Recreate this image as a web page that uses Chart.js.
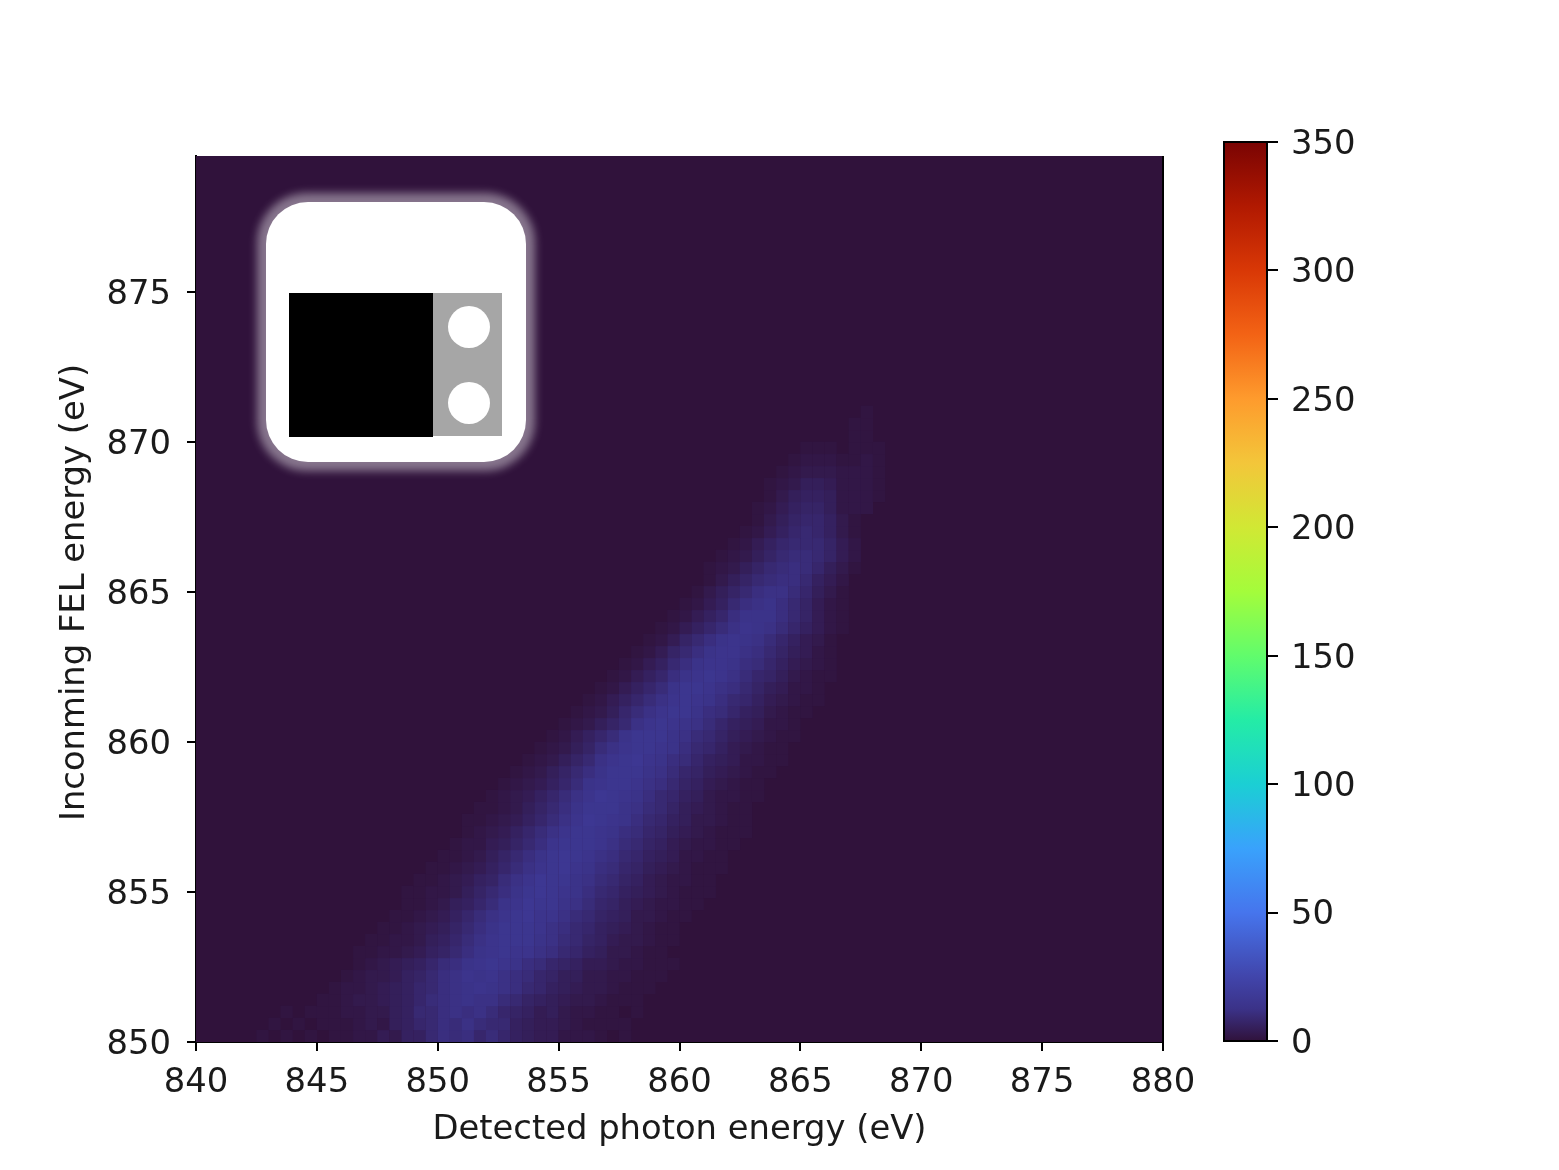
<!DOCTYPE html>
<html>
<head>
<meta charset="utf-8">
<title>RIXS map</title>
<script src="https://cdn.jsdelivr.net/npm/chart.js@4"></script>
<style>
  html, body { margin: 0; background: #fff; }
  #wrap { position: relative; width: 1559px; height: 1170px; }
  canvas { position: absolute; top: 0; }
  #mapChart { left: 0; }
  #barChart { left: 1180px; }
</style>
</head>
<body>
<div id="wrap">
  <canvas id="mapChart" width="1559" height="1170"></canvas>
  <canvas id="barChart" width="379" height="1170"></canvas>
</div>
<script>
const xTicks = [840, 845, 850, 855, 860, 865, 870, 875, 880];
const yTicks = [850, 855, 860, 865, 870, 875];
const barTicks = [0, 50, 100, 150, 200, 250, 300, 350];

const xLabel = "Detected photon energy (eV)";
const yLabel = "Inconming FEL energy (eV)";

// map grid: column width in eV, row height in eV
const colStep = 0.5;
const rowStep = 0.4;

// first column index of each row in rowValues
const rowStarts = [5, 6, 7, 10, 11, 12, 13, 13, 14, 15, 16, 17, 17, 18, 19, 20, 21, 22, 22, 23, 24, 25, 26, 27,
  28, 29, 30, 31, 32, 33, 34, 35, 36, 37, 38, 39, 40, 41, 42, 42, 43, 44, 45, 46, 46, 47, 47, 48, 49, 50, 54, 54, 54];

// bottom row first, background (0) left out
const rowValues = [
  [1,0,1,0,1,0,1,1,2,2,4,3,6,6,9,11,10,11,8,10,8,6,5,4,4,2,2,2,1,0,1],
  [1,0,1,0,1,1,1,2,3,2,5,6,8,9,11,10,12,10,9,9,6,5,4,4,3,2,1,1,1,1],
  [1,0,1,1,1,2,2,3,3,5,6,9,9,11,12,11,12,10,8,7,6,4,5,3,2,2,1,1,0,1],
  [1,1,2,3,3,4,5,6,8,10,11,12,13,12,12,10,9,7,6,5,4,3,3,2,1,1,1],
  [1,2,2,3,4,5,6,8,9,11,12,13,14,13,12,11,9,8,6,5,4,3,3,2,1,1,1],
  [1,2,3,3,4,6,7,9,11,12,14,13,14,12,11,10,8,7,5,5,3,3,2,2,1,1,1],
  [1,2,3,4,5,6,8,10,11,13,14,15,14,13,11,10,8,7,6,4,4,3,2,2,1,1,1],
  [1,1,2,2,3,4,6,7,9,11,13,14,15,14,14,12,11,9,8,6,5,3,3,2,1,1],
  [1,1,2,2,3,5,6,8,10,12,14,15,15,15,13,12,10,9,7,6,4,3,3,2,1,1],
  [1,1,2,3,4,5,7,9,11,13,15,15,15,14,12,11,9,8,6,5,4,3,2,1,1],
  [1,1,2,3,4,6,8,10,12,14,15,16,14,14,12,10,9,7,6,5,3,3,2,1,1],
  [1,1,2,3,5,6,8,10,13,14,16,15,15,13,12,10,8,7,5,4,3,2,2,1,1],
  [1,1,2,2,3,5,7,9,11,13,15,16,15,14,13,11,9,8,6,5,4,3,2,1,1,1],
  [1,1,2,3,4,6,7,10,12,14,16,15,15,13,12,10,9,7,6,4,3,2,2,1,1],
  [1,1,2,3,4,6,8,10,12,14,15,16,14,13,11,10,8,7,5,4,3,2,1,1,1],
  [1,1,2,3,5,7,9,11,13,15,16,15,14,12,11,9,8,6,5,4,2,2,1,1],
  [1,2,2,4,5,7,9,11,14,15,15,15,14,12,10,9,7,6,4,3,2,2,1,1],
  [1,2,3,4,6,8,10,12,14,15,15,14,13,11,10,8,7,5,4,3,2,1,1,1],
  [1,1,2,3,4,6,8,10,12,14,16,15,14,13,11,9,8,6,5,3,3,2,1,1],
  [1,1,2,3,5,7,9,11,13,15,15,15,13,12,10,9,7,5,4,3,2,1,1],
  [1,2,3,4,6,8,10,12,14,16,15,14,13,11,9,8,6,5,3,2,2,1,1],
  [1,2,3,4,6,8,10,13,14,15,15,14,12,11,9,7,6,4,3,2,1,1],
  [1,2,3,5,7,9,11,13,15,15,15,13,12,10,8,7,5,4,3,2,1,1],
  [1,2,3,5,7,9,12,14,15,16,14,13,11,10,8,6,5,4,2,2,1,1],
  [1,2,3,5,7,10,12,14,15,15,14,13,11,9,8,6,4,3,2,1,1],
  [1,2,4,6,8,10,13,15,15,15,13,12,10,9,7,5,4,3,2,1,1],
  [1,2,3,5,7,9,12,14,15,14,13,12,10,8,6,5,4,2,2,1],
  [1,2,3,5,8,10,12,14,15,15,13,11,10,8,6,5,3,2,1,1],
  [1,2,4,6,8,10,12,14,15,14,13,11,9,8,6,4,3,2,1,1],
  [1,2,4,6,8,10,13,15,15,14,12,11,9,7,5,4,2,2,1],
  [1,2,4,6,8,11,13,14,15,14,12,10,8,7,5,3,2,1,1],
  [1,2,4,6,9,11,13,14,14,13,11,10,8,6,4,3,2,1],
  [1,2,4,7,9,11,13,14,14,12,11,9,7,5,4,2,1],
  [1,2,4,7,9,11,13,14,13,12,10,8,6,4,3,1],
  [1,2,4,6,8,10,12,14,13,12,10,8,6,4,2,1],
  [1,2,4,6,8,11,13,13,13,11,9,7,4,2,1],
  [1,2,4,6,9,11,12,13,11,9,7,4,2,1],
  [1,3,5,7,9,11,12,12,10,8,5,3,1],
  [1,3,5,7,9,10,11,11,9,6,4,2],
  [1,2,3,5,7,9,10,11,10,8,5,3,1],
  [1,2,3,5,7,9,10,10,9,7,4,2],
  [1,2,4,6,8,9,9,9,7,4,2],
  [1,2,4,6,8,9,8,6,3,1],
  [1,3,5,7,8,8,6,3,1],
  [1,2,4,6,7,7,5,2,2,2],
  [1,3,5,6,6,5,2,2,2,1],
  [1,2,3,5,5,4,2,2,2,1],
  [1,2,3,3,3,2,2,2,1],
  [1,2,2,2,1,1,2,1],
  [1,1,1,0,1,1,1],
  [1,1],
  [1,1],
  [0,1]
];

// turbo colormap stops, positions in 0..1
const turboPos = [0, 0.0357, 0.0714, 0.1429, 0.2143, 0.2857, 0.3571, 0.4286, 0.5, 0.5714, 0.6429, 0.7143, 0.7857, 0.8571, 0.9286, 1];
const turboStops = ["#30123b", "#3b3288", "#4145ab", "#4675ed", "#39a2fc", "#1bcfd4", "#24eca6", "#61fc6c", "#a4fc3b",
  "#d1e834", "#f3c63a", "#fe9b2d", "#f36315", "#d93806", "#b11901", "#7a0403"];
const vmax = 350;

function hexToRgb(h) {
  return [1, 3, 5].map(i => parseInt(h.slice(i, i + 2), 16));
}
function turbo(v) {
  const t = Math.min(v / vmax, 1);
  let i = 0;
  while (i < turboPos.length - 2 && t > turboPos[i + 1]) i++;
  const f = (t - turboPos[i]) / (turboPos[i + 1] - turboPos[i]);
  const a = hexToRgb(turboStops[i]), b = hexToRgb(turboStops[i + 1]);
  const c = a.map((p, k) => Math.round(p + (b[k] - p) * f));
  return `rgb(${c[0]},${c[1]},${c[2]})`;
}

const cells = [];
rowValues.forEach((row, j) => {
  row.forEach((v, k) => {
    if (v > 0) cells.push({ x: 840 + (rowStarts[j] + k + 0.5) * colStep, y: 850 + (j + 0.5) * rowStep, v });
  });
});

Chart.defaults.font.family = "'DejaVu Sans'";
Chart.defaults.font.size = 33.8;
Chart.defaults.color = "#1a1a1a";
Chart.defaults.animation = false;

function fixedTicks(list) {
  return scale => { scale.ticks = list.map(value => ({ value })); };
}

const mapBackdrop = {
  id: "mapBackdrop",
  beforeDatasetsDraw(chart) {
    const a = chart.chartArea, ctx = chart.ctx;
    ctx.fillStyle = turboStops[0];
    ctx.fillRect(a.left, a.top, a.right - a.left, a.bottom - a.top);
  },
  afterDraw(chart) {
    const a = chart.chartArea, ctx = chart.ctx;
    // right spine, image covers the top one
    ctx.strokeStyle = "#000";
    ctx.lineWidth = 2;
    ctx.beginPath();
    ctx.moveTo(a.right, a.top);
    ctx.lineTo(a.right, a.bottom);
    ctx.stroke();

    // axis title sits a bit above the axes centre in the reference
    ctx.save();
    ctx.translate(75, 592.5);
    ctx.rotate(-Math.PI / 2);
    ctx.font = "33.8px 'DejaVu Sans'";
    ctx.fillStyle = "#1a1a1a";
    ctx.textAlign = "center";
    ctx.textBaseline = "middle";
    ctx.fillText(yLabel, 0, 0);
    ctx.restore();

    // inset sketch in the corner
    ctx.save();
    ctx.filter = "blur(4px)";
    ctx.fillStyle = "rgba(255,255,255,0.42)";
    ctx.beginPath();
    ctx.roundRect(257, 193, 278, 278, 50);
    ctx.fill();
    ctx.restore();
    ctx.fillStyle = "#fff";
    ctx.beginPath();
    ctx.roundRect(266, 202, 260, 260, 42);
    ctx.fill();
    ctx.fillStyle = "#a6a6a6";
    ctx.fillRect(433, 293, 69, 143);
    ctx.fillStyle = "#000";
    ctx.fillRect(289, 293, 144, 144);
    ctx.fillStyle = "#fff";
    [327, 403].forEach(cy => {
      ctx.beginPath();
      ctx.arc(469, cy, 21, 0, Math.PI * 2);
      ctx.fill();
    });
  }
};

new Chart(document.getElementById("mapChart"), {
  type: "scatter",
  data: {
    datasets: [{
      data: cells,
      pointStyle: "rect",
      pointRadius: 8.7,
      pointBorderWidth: 0,
      pointBackgroundColor: ctx => turbo(ctx.raw ? ctx.raw.v : 0)
    }]
  },
  plugins: [mapBackdrop],
  options: {
    responsive: false,
    layout: { padding: { left: 0, top: 156, right: 396, bottom: 0 } },
    plugins: { legend: { display: false }, tooltip: { enabled: false } },
    scales: {
      x: {
        type: "linear", min: 840, max: 880,
        afterBuildTicks: fixedTicks(xTicks),
        afterFit: s => { s.height = 128; },
        border: { color: "#000", width: 2 },
        grid: { drawOnChartArea: false, color: "#000", lineWidth: 2, tickLength: 9, tickWidth: 2, tickColor: "#000" },
        ticks: { padding: 12, maxRotation: 0, autoSkip: false },
        title: { display: true, text: xLabel, padding: { top: 0, bottom: 20 } }
      },
      y: {
        type: "linear", min: 850, max: 879.53,
        afterBuildTicks: fixedTicks(yTicks),
        afterFit: s => { s.width = 196; },
        border: { color: "#000", width: 2 },
        grid: { drawOnChartArea: false, color: "#000", lineWidth: 2, tickLength: 9, tickWidth: 2, tickColor: "#000" },
        ticks: { padding: 16, labelOffset: 3, autoSkip: false }
      }
    }
  }
});

const barOutline = {
  id: "barOutline",
  afterDraw(chart) {
    const a = chart.chartArea, ctx = chart.ctx;
    ctx.strokeStyle = "#000";
    ctx.lineWidth = 2;
    ctx.strokeRect(a.left, a.top, a.right - a.left, a.bottom - a.top);
  }
};

new Chart(document.getElementById("barChart"), {
  type: "bar",
  data: {
    labels: ["counts"],
    datasets: [{
      data: [[0, vmax]],
      barPercentage: 1,
      categoryPercentage: 1,
      backgroundColor: ctx => {
        const a = ctx.chart.chartArea;
        if (!a) return turboStops[0];
        const g = ctx.chart.ctx.createLinearGradient(0, a.bottom, 0, a.top);
        turboStops.forEach((c, i) => g.addColorStop(turboPos[i], c));
        return g;
      }
    }]
  },
  plugins: [barOutline],
  options: {
    responsive: false,
    layout: { padding: { left: 44, top: 142, right: 0, bottom: 129 } },
    plugins: { legend: { display: false }, tooltip: { enabled: false } },
    scales: {
      x: { display: false },
      y: {
        position: "right", min: 0, max: vmax,
        afterBuildTicks: fixedTicks(barTicks),
        afterFit: s => { s.width = 292; },
        border: { color: "#000", width: 2 },
        grid: { drawOnChartArea: false, lineWidth: 2, tickLength: 11, tickWidth: 2, tickColor: "#000" },
        ticks: { padding: 13, labelOffset: 3, autoSkip: false }
      }
    }
  }
});
</script>
</body>
</html>
